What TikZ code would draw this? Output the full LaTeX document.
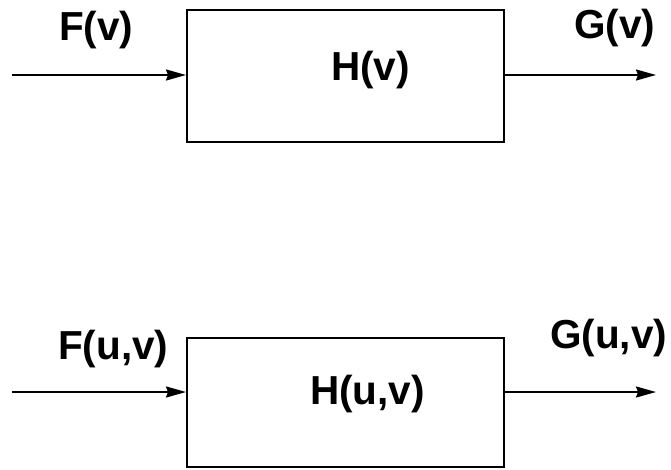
\documentclass[tikz,border=0pt]{standalone}
\usepackage{fontspec}
\setmainfont{Liberation Sans}
\usetikzlibrary{arrows.meta}
\begin{document}
\begin{tikzpicture}[x=1pt,y=-1pt,
  blk/.style={draw,line width=2pt,rectangle,inner sep=0pt},
  lbl/.style={inner sep=0pt,anchor=base west,font=\fontsize{40.5}{44}\selectfont\bfseries},
  sig/.style={line width=2pt,-{Stealth[length=20pt,width=11pt,inset=2pt]}}]
\useasboundingbox[fill=white] (0,0) rectangle (671,469);
% top system
\node[blk,minimum width=317pt,minimum height=132pt] (box1) at (345.5,76) {};
\node[lbl] (h1) at (331,80) {H(v)};
\node[lbl] (f1) at (59,40) {F(v)};
\node[lbl] (g1) at (574,38) {G(v)};
\coordinate (in1) at (12,75);
\coordinate (out1) at (656,75);
\draw[sig] (in1) -- (in1 -| box1.west);
\draw[sig] (out1 -| box1.east) -- (out1);
% bottom system
\node[blk,minimum width=317pt,minimum height=129pt] (box2) at (345.5,402.5) {};
\node[lbl] (h2) at (310,404) {H(u,v)};
\node[lbl] (f2) at (58,359) {F(u,v)};
\node[lbl] (g2) at (550,348) {G(u,v)};
\coordinate (in2) at (12,392);
\coordinate (out2) at (656,392);
\draw[sig] (in2) -- (in2 -| box2.west);
\draw[sig] (out2 -| box2.east) -- (out2);
\end{tikzpicture}
\end{document}
